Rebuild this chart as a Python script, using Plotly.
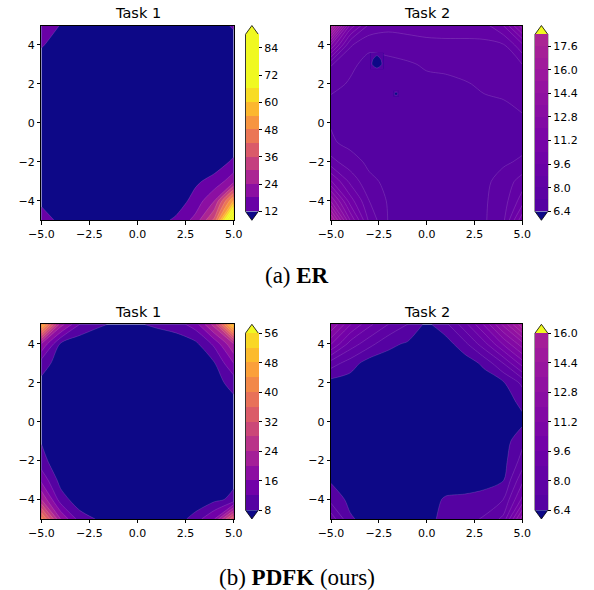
import plotly.graph_objects as go
import plotly.express as px
from plotly.colors import sample_colorscale

W, H = 594, 590

# grid coordinates (x and y), values read at integer grid points, rows are y = -5 .. 5
GRID = [-5, -4, -3, -2, -1, 0, 1, 2, 3, 4, 5]

ER_TASK1 = [
    [14.0, 11.0, 8.0, 6.0, 5.0, 6.0, 10.0, 13.0, 20.0, 38.0, 92.0],
    [11.2, 8.0, 6.0, 5.0, 4.0, 4.0, 6.0, 9.0, 14.0, 24.0, 55.0],
    [9.0, 6.0, 5.0, 4.0, 3.0, 3.0, 4.0, 7.0, 11.0, 14.0, 22.0],
    [8.0, 5.0, 4.0, 3.0, 3.0, 3.0, 3.0, 5.0, 8.0, 9.0, 13.0],
    [7.0, 5.0, 4.0, 3.0, 3.0, 3.0, 3.0, 4.0, 6.0, 7.0, 9.0],
    [7.0, 5.0, 4.0, 3.0, 3.0, 3.0, 3.0, 4.0, 5.0, 6.0, 8.0],
    [7.0, 5.0, 4.0, 3.0, 3.0, 3.0, 3.0, 4.0, 5.0, 6.0, 8.0],
    [8.0, 6.0, 4.0, 4.0, 3.0, 3.0, 4.0, 4.0, 5.0, 6.0, 8.0],
    [9.0, 7.0, 5.0, 4.0, 4.0, 4.0, 4.0, 5.0, 6.0, 7.0, 9.0],
    [12.6, 9.0, 7.0, 6.0, 5.0, 5.0, 5.0, 6.0, 7.0, 9.0, 11.0],
    [15.0, 11.8, 9.0, 8.0, 7.0, 7.0, 7.0, 8.0, 9.0, 11.0, 12.3],
]

ER_TASK2 = [
    [17.0, 12.0, 8.6, 7.15, 7.05, 7.0, 7.0, 7.05, 7.1, 7.8, 11.0],
    [13.5, 10.0, 8.0, 7.1, 7.0, 6.95, 6.9, 6.95, 7.1, 7.6, 9.2],
    [10.5, 8.6, 7.35, 7.05, 6.95, 6.9, 6.9, 6.95, 7.05, 7.45, 8.4],
    [8.3, 7.5, 7.05, 6.95, 6.9, 6.85, 6.85, 6.9, 6.95, 7.1, 7.3],
    [7.3, 7.0, 6.95, 6.9, 6.85, 6.85, 6.85, 6.9, 6.95, 7.0, 7.0],
    [7.15, 6.95, 6.9, 6.85, 6.85, 6.85, 6.9, 6.95, 7.0, 7.1, 7.1],
    [6.95, 6.95, 6.9, 6.9, 6.9, 6.9, 6.95, 7.0, 7.1, 7.15, 7.3],
    [7.5, 7.1, 7.05, 6.95, 6.95, 7.0, 7.05, 7.15, 7.3, 7.4, 7.6],
    [8.05, 7.4, 6.9, 6.9, 7.1, 7.3, 7.35, 7.45, 7.55, 7.7, 8.0],
    [12.0, 8.1, 7.4, 7.6, 7.65, 7.75, 7.8, 7.8, 7.8, 7.9, 9.4],
    [17.5, 11.0, 8.6, 8.2, 8.3, 8.4, 8.4, 8.4, 8.5, 9.6, 12.5],
]
# two small dips below the lowest level in ER task 2
DIP1_X = [-2.95, -2.6, -2.25]
DIP1_Y = [2.75, 3.0, 3.25, 3.6]
DIP1_Z = [
    [6.95, 6.95, 6.95],
    [6.95, 5.0, 6.95],
    [6.95, 5.6, 6.95],
    [6.95, 6.95, 6.95],
]
DIP2_X = [-1.75, -1.6, -1.45]
DIP2_Y = [1.35, 1.5, 1.65]
DIP2_Z = [[6.95, 6.95, 6.95], [6.95, 5.6, 6.95], [6.95, 6.95, 6.95]]

PDFK_TASK1 = [
    [42.0, 20.0, 10.0, 7.5, 5.0, 4.0, 4.0, 5.5, 10.0, 16.0, 36.0],
    [24.0, 10.0, 5.5, 4.5, 3.0, 2.5, 2.5, 3.0, 4.5, 7.0, 9.0],
    [15.0, 6.5, 4.0, 3.0, 2.5, 2.0, 2.0, 2.5, 3.5, 6.0, 7.2],
    [9.5, 5.0, 3.5, 2.5, 2.0, 2.0, 2.0, 2.5, 3.5, 5.5, 7.0],
    [7.8, 4.5, 3.0, 2.5, 2.0, 2.0, 2.0, 2.5, 3.5, 5.0, 6.5],
    [5.5, 3.5, 2.5, 2.0, 2.0, 2.0, 2.0, 2.5, 3.5, 5.0, 6.5],
    [5.5, 4.0, 3.0, 2.5, 2.0, 2.0, 2.5, 3.0, 4.0, 5.5, 7.0],
    [7.0, 4.5, 3.0, 2.5, 2.5, 2.5, 2.5, 3.0, 4.5, 6.5, 9.5],
    [10.0, 6.0, 4.0, 3.0, 3.0, 3.0, 3.0, 4.0, 5.5, 7.8, 16.0],
    [20.0, 7.6, 5.0, 4.0, 3.5, 3.5, 4.0, 5.5, 7.0, 13.0, 24.0],
    [50.0, 22.0, 12.0, 8.8, 7.0, 7.5, 9.0, 10.0, 14.0, 26.0, 54.0],
]

PDFK_TASK2 = [
    [8.5, 6.5, 6.1, 6.0, 5.9, 6.1, 6.7, 6.9, 7.3, 8.2, 12.5],
    [6.9, 6.2, 5.9, 5.7, 5.6, 5.7, 6.6, 6.6, 6.7, 7.2, 9.8],
    [6.3, 6.0, 5.7, 5.5, 5.4, 5.4, 5.5, 5.9, 6.1, 6.35, 8.6],
    [6.0, 5.8, 5.6, 5.5, 5.4, 5.3, 5.3, 5.4, 5.7, 6.1, 7.5],
    [5.9, 5.7, 5.5, 5.4, 5.3, 5.3, 5.3, 5.4, 5.6, 6.0, 7.0],
    [5.8, 5.7, 5.5, 5.4, 5.3, 5.3, 5.3, 5.4, 5.6, 5.9, 6.2],
    [5.9, 5.8, 5.6, 5.5, 5.4, 5.4, 5.4, 5.5, 5.7, 6.0, 6.6],
    [6.1, 6.0, 5.9, 5.7, 5.6, 5.5, 5.5, 5.6, 5.9, 6.3, 7.4],
    [7.6, 6.8, 6.0, 6.0, 5.8, 5.6, 5.6, 5.9, 6.6, 8.0, 10.0],
    [10.5, 8.5, 7.5, 6.6, 6.3, 5.8, 6.0, 7.0, 8.5, 10.5, 12.5],
    [12.8, 10.5, 9.0, 8.0, 7.2, 6.2, 7.0, 8.5, 10.5, 13.0, 15.8],
]

# contour levels (start, end, step) and colorbar ticks
LEVELS = {
    "er1": (12, 90, 6),
    "er2": (6.4, 18.4, 0.8),
    "pd1": (8, 56, 4),
    "pd2": (6.4, 16.0, 0.8),
}
CB_TICKS = {
    "er1": [12, 24, 36, 48, 60, 72, 84],
    "er2": [6.4, 8.0, 9.6, 11.2, 12.8, 14.4, 16.0, 17.6],
    "pd1": [8, 16, 24, 32, 40, 48, 56],
    "pd2": [6.4, 8.0, 9.6, 11.2, 12.8, 14.4, 16.0],
}
CB_TICKTEXT = {
    "er1": ["12", "24", "36", "48", "60", "72", "84"],
    "er2": ["6.4", "8.0", "9.6", "11.2", "12.8", "14.4", "16.0", "17.6"],
    "pd1": ["8", "16", "24", "32", "40", "48", "56"],
    "pd2": ["6.4", "8.0", "9.6", "11.2", "12.8", "14.4", "16.0"],
}
X_TICKS = [-5, -2.5, 0, 2.5, 5]
X_TICKTEXT = ["\u22125.0", "\u22122.5", "0.0", "2.5", "5.0"]
Y_TICKS = [-4, -2, 0, 2, 4]
Y_TICKTEXT = ["\u22124", "\u22122", "0", "2", "4"]
TITLES = ["Task 1", "Task 2", "Task 1", "Task 2"]
CAPTIONS = ["(a) <b>ER</b>", "(b) <b>PDFK</b> (ours)"]

PLASMA = px.colors.sequential.Plasma
NAVY = "#0d0887"
YELLOW = "#f0f921"


def plasma(t):
    return sample_colorscale(PLASMA, [min(max(t, 0.0), 1.0)])[0]


# colour position (0..1 along plasma) of the first band and increment per band
BAND_COLOR = {
    "er1": (0.20, 0.0913),
    "er2": (0.15, 0.0165),
    "pd1": (0.15, 0.07),
    "pd2": (0.15, 0.019),
}

# layout in pixels: plot left, top, right, bottom ; colorbar left
PANELS = [
    ("er1", ER_TASK1, (41.3, 25.5, 233.7, 220.3), 245.5),
    ("er2", ER_TASK2, (331.0, 25.5, 522.3, 220.3), 535.0),
    ("pd1", PDFK_TASK1, (41.3, 324.3, 233.7, 519.0), 245.5),
    ("pd2", PDFK_TASK2, (331.0, 324.3, 522.3, 519.0), 535.0),
]
CB_W = 12.8
TICK_FONT = dict(family="DejaVu Sans", size=11, color="black")

fig = go.Figure()
shapes = []
annotations = []
layout = {}

for i, (key, z, (L, T, R, B), cbx) in enumerate(PANELS):
    s = "" if i == 0 else str(i + 1)
    xa, ya = "x" + s, "y" + s
    start, end, step = LEVELS[key]
    nc = int(round((end - start) / step)) + 1
    nb = nc - 1
    t0, dt = BAND_COLOR[key]
    band_cols = [plasma(t0 + dt * k) for k in range(nb)]
    cols = [NAVY] + band_cols + [YELLOW]
    cscale = [[j / nc, cols[j]] for j in range(nc + 1)]

    contour_kw = dict(
        contours=dict(start=start, end=end, size=step, coloring="fill", showlines=True),
        autocontour=False,
        colorscale=cscale,
        showscale=False,
        line=dict(color="rgba(255,255,255,0.28)", width=0.5, smoothing=0.8),
        hoverinfo="skip",
        xaxis=xa,
        yaxis=ya,
    )
    fig.add_trace(go.Contour(x=GRID, y=GRID, z=z, **contour_kw))
    if key == "er2":
        fig.add_trace(go.Contour(x=DIP1_X, y=DIP1_Y, z=DIP1_Z, **contour_kw))
        fig.add_trace(go.Contour(x=DIP2_X, y=DIP2_Y, z=DIP2_Z, **contour_kw))

    # colorbar (stepped)
    bar_cs = []
    for k in range(nb):
        bar_cs.append([k / nb, band_cols[k]])
        bar_cs.append([(k + 1) / nb, band_cols[k]])
    ext = (B - T) / 1.1 * 0.05
    rt, rb = T + ext, B - ext
    fig.add_trace(go.Scatter(
        x=[0], y=[0], mode="markers", hoverinfo="skip", showlegend=False,
        xaxis=xa, yaxis=ya,
        marker=dict(size=1, opacity=0, color=[start], cmin=start, cmax=end,
                    colorscale=bar_cs, showscale=True,
                    colorbar=dict(
                        x=cbx / W, xanchor="left", xpad=0,
                        y=1 - rt / H, yanchor="top", ypad=0,
                        len=rb - rt, lenmode="pixels",
                        thickness=CB_W, thicknessmode="pixels",
                        outlinewidth=0, borderwidth=0,
                        tickmode="array", tickvals=CB_TICKS[key], ticktext=CB_TICKTEXT[key],
                        ticks="outside", ticklen=3.5, tickwidth=0.8, tickcolor="black",
                        tickfont=TICK_FONT,
                    )),
    ))
    # extension triangles and outline
    x0, x1, xc = cbx / W, (cbx + CB_W) / W, (cbx + CB_W / 2) / W
    yt, yb = 1 - rt / H, 1 - rb / H
    ytip, ybtip = 1 - T / H, 1 - B / H
    shapes.append(dict(type="path", xref="paper", yref="paper", layer="above",
                       path=f"M{x0},{yt} L{xc},{ytip} L{x1},{yt} Z",
                       fillcolor=YELLOW, line=dict(width=0)))
    shapes.append(dict(type="path", xref="paper", yref="paper", layer="above",
                       path=f"M{x0},{yb} L{xc},{ybtip} L{x1},{yb} Z",
                       fillcolor=NAVY, line=dict(width=0)))
    shapes.append(dict(type="path", xref="paper", yref="paper", layer="above",
                       path=f"M{x0},{yb} L{x0},{yt} L{xc},{ytip} L{x1},{yt} L{x1},{yb} L{xc},{ybtip} Z",
                       line=dict(color="black", width=0.8)))

    axis_common = dict(range=[-5, 5], showgrid=False, zeroline=False, ticks="outside",
                       ticklen=3.5, tickwidth=0.8, tickcolor="black", showline=True,
                       linecolor="black", linewidth=0.8, mirror=True, automargin=False,
                       tickfont=TICK_FONT)
    layout["xaxis" + s] = dict(domain=[L / W, R / W], anchor=ya, tickmode="array",
                               tickvals=X_TICKS, ticktext=X_TICKTEXT, **axis_common)
    layout["yaxis" + s] = dict(domain=[1 - B / H, 1 - T / H], anchor=xa, tickmode="array",
                               tickvals=Y_TICKS, ticktext=Y_TICKTEXT, **axis_common)
    annotations.append(dict(text=TITLES[i], xref="paper", yref="paper",
                            x=(L + R) / 2 / W, y=1 - (T - 12.5) / H,
                            xanchor="center", yanchor="middle", showarrow=False,
                            font=dict(family="DejaVu Sans", size=14.5, color="black")))

annotations.append(dict(text=CAPTIONS[0], xref="paper", yref="paper", x=0.5, y=1 - 275 / H,
                        xanchor="center", yanchor="middle", showarrow=False,
                        font=dict(family="Liberation Serif", size=23, color="black")))
annotations.append(dict(text=CAPTIONS[1], xref="paper", yref="paper", x=0.5, y=1 - 577 / H,
                        xanchor="center", yanchor="middle", showarrow=False,
                        font=dict(family="Liberation Serif", size=23, color="black")))

fig.update_layout(width=W, height=H, margin=dict(l=0, r=0, t=0, b=0, autoexpand=False),
                  paper_bgcolor="white", plot_bgcolor="white", showlegend=False,
                  shapes=shapes, annotations=annotations, **layout)
fig.write_html("out.html", config={"displayModeBar": False},
               post_script="document.body.style.margin='0';document.body.style.overflow='hidden';")
